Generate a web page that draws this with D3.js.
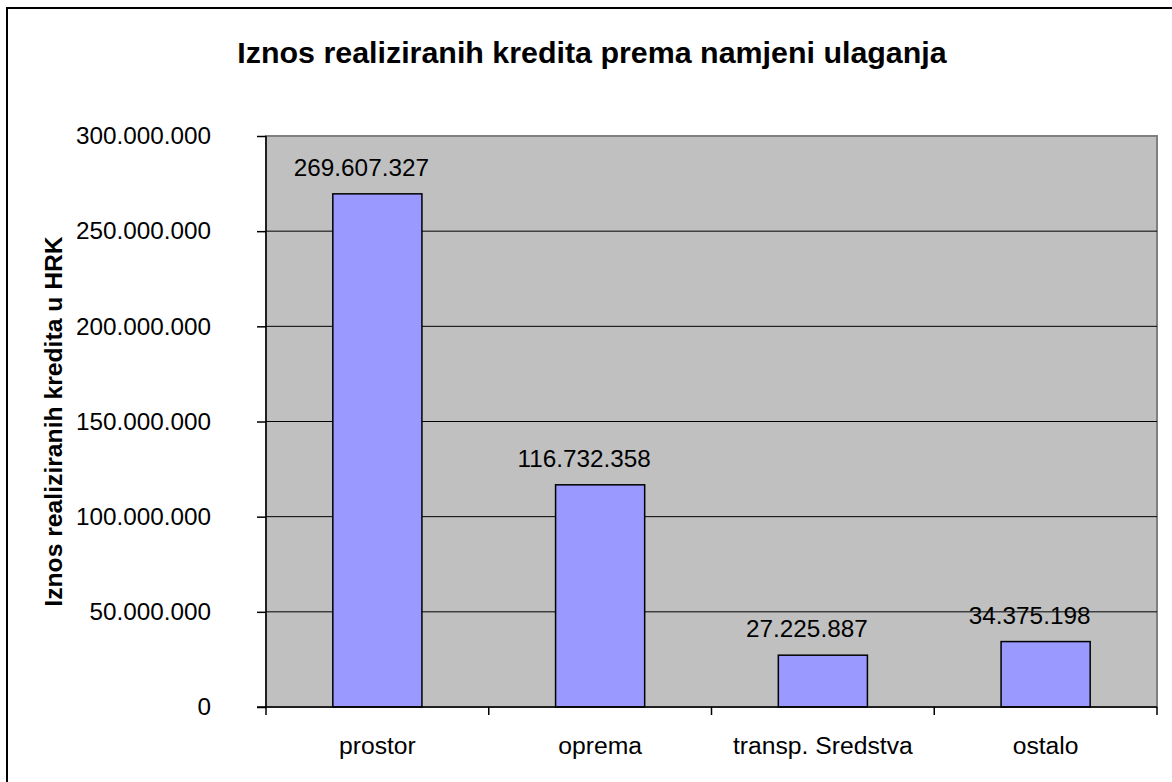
<!DOCTYPE html>
<html>
<meta charset="utf-8">
<style>
  body { margin: 0; background: #fff; }
  text { font-family: "Liberation Sans", Arial, sans-serif; fill: #000; }
</style>
<body>
<div id="chart"></div>
<script src="https://d3js.org/d3.v7.min.js"></script>
<script>
  // podaci
  var categories = ["prostor", "oprema", "transp. Sredstva", "ostalo"];
  var values = [269607327, 116732358, 27225887, 34375198];
  var yTicks = [0, 50000000, 100000000, 150000000, 200000000, 250000000, 300000000];
  var title = "Iznos realiziranih kredita prema namjeni ulaganja";
  var yTitle = "Iznos realiziranih kredita u HRK";

  var W = 1172, H = 782;
  var pLeft = 266, pRight = 1157, pTop = 136, pBottom = 707;
  var fsNum = "24.3px", fsTxt = "24.7px";

  var hr = d3.formatLocale({decimal: ",", thousands: ".", grouping: [3], currency: ["", ""]});
  var fmt = hr.format(",d");

  var svg = d3.select("#chart").append("svg")
    .attr("width", W)
    .attr("height", H);

  svg.append("rect").attr("width", W).attr("height", H).attr("fill", "#fff");

  // okvir grafikona (desni i donji rub izvan slike)
  svg.append("rect")
    .attr("x", 7).attr("y", 8)
    .attr("width", W + 20).attr("height", H + 20)
    .attr("fill", "none")
    .attr("stroke", "#000")
    .attr("stroke-width", 2);

  var x = d3.scaleBand().domain(categories).range([pLeft, pRight]);
  var y = d3.scaleLinear().domain([0, 300000000]).range([pBottom, pTop]);

  // pozadina plot area
  svg.append("rect")
    .attr("x", pLeft).attr("y", pTop)
    .attr("width", pRight - pLeft).attr("height", pBottom - pTop)
    .attr("fill", "#c0c0c0")
    .attr("stroke", "#808080")
    .attr("stroke-width", 2);

  // mreza
  svg.append("g").selectAll("line")
    .data(yTicks.slice(1, -1))
    .enter().append("line")
    .attr("x1", pLeft).attr("x2", pRight)
    .attr("y1", function(d) { return y(d); })
    .attr("y2", function(d) { return y(d); })
    .attr("stroke", "#000")
    .attr("stroke-width", 1);

  // stupci
  svg.append("g").selectAll("rect")
    .data(values)
    .enter().append("rect")
    .attr("x", function(d, i) { return x(categories[i]) + x.bandwidth() * 0.3; })
    .attr("width", x.bandwidth() * 0.4)
    .attr("y", function(d) { return y(d); })
    .attr("height", function(d) { return y(0) - y(d); })
    .attr("fill", "#9999ff")
    .attr("stroke", "#000")
    .attr("stroke-width", 1.5);

  // y os
  var yAxis = svg.append("g")
    .attr("transform", "translate(" + pLeft + ",0)")
    .call(d3.axisLeft(y).tickValues(yTicks).tickSize(9).tickPadding(46).tickFormat(fmt));
  yAxis.select(".domain").attr("stroke", "#000").attr("stroke-width", 1.5).attr("d", "M0," + pTop + "V" + pBottom);
  yAxis.selectAll(".tick line").attr("stroke", "#000").attr("stroke-width", 1.5);
  yAxis.selectAll(".tick text")
    .style("font-family", "'Liberation Sans', Arial, sans-serif")
    .style("font-size", fsNum)
    .attr("fill", "#000");

  // x os
  svg.append("line")
    .attr("x1", pLeft - 9).attr("x2", pRight)
    .attr("y1", pBottom).attr("y2", pBottom)
    .attr("stroke", "#000").attr("stroke-width", 1.5);

  var bounds = categories.map(function(c) { return x(c); }).concat([x(categories[categories.length - 1]) + x.bandwidth()]);
  svg.append("g").selectAll("line")
    .data(bounds)
    .enter().append("line")
    .attr("x1", function(d) { return d; })
    .attr("x2", function(d) { return d; })
    .attr("y1", pBottom).attr("y2", pBottom + 8)
    .attr("stroke", "#000").attr("stroke-width", 1.5);

  svg.append("g").selectAll("text")
    .data(categories)
    .enter().append("text")
    .attr("x", function(d) { return x(d) + x.bandwidth() / 2; })
    .attr("y", 754)
    .attr("text-anchor", "middle")
    .style("font-size", fsTxt)
    .text(function(d) { return d; });

  // oznake vrijednosti (u originalu malo pomaknute ulijevo)
  svg.append("g").selectAll("text")
    .data(values)
    .enter().append("text")
    .attr("x", function(d, i) { return x(categories[i]) + x.bandwidth() / 2 - 16; })
    .attr("y", function(d) { return y(d) - 18; })
    .attr("text-anchor", "middle")
    .style("font-size", fsNum)
    .text(function(d) { return fmt(d); });

  // naslovi
  svg.append("text")
    .attr("x", 592).attr("y", 63)
    .attr("text-anchor", "middle")
    .style("font-size", "30.4px")
    .style("font-weight", "bold")
    .text(title);

  svg.append("text")
    .attr("transform", "translate(62," + ((pTop + pBottom) / 2) + ") rotate(-90)")
    .attr("text-anchor", "middle")
    .style("font-size", fsTxt)
    .style("font-weight", "bold")
    .text(yTitle);
</script>
</body>
</html>
